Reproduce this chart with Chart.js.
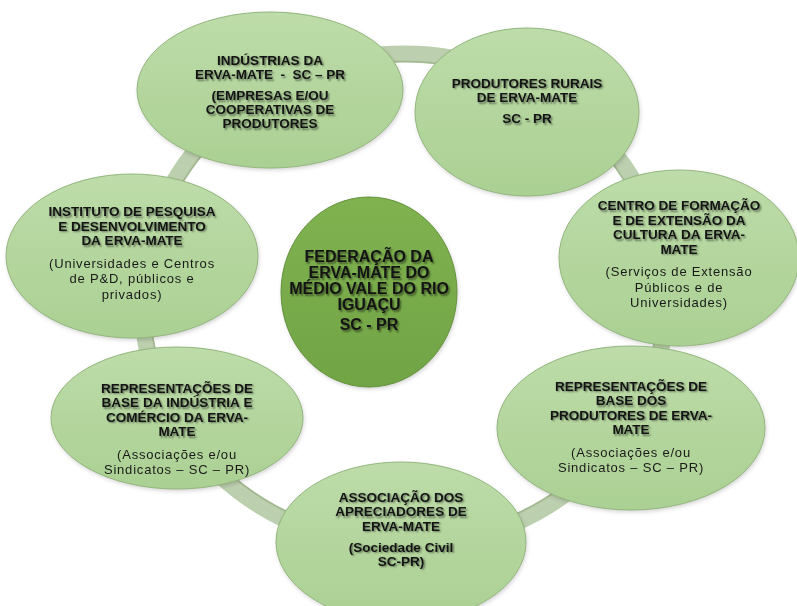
<!DOCTYPE html>
<html>
<head>
<meta charset="utf-8">
<script src="https://cdn.jsdelivr.net/npm/chart.js@4/dist/chart.umd.min.js"></script>
<style>
  html, body { margin: 0; padding: 0; background: #fff; }
  canvas { display: block; }
</style>
</head>
<body>
<canvas id="diagram" width="797" height="606"></canvas>
<script>
    // nodes of the cycle, clockwise from top-left
    const nodeTitles = [
        ['INDÚSTRIAS DA', 'ERVA-MATE  -  SC – PR'],
        ['PRODUTORES RURAIS', 'DE ERVA-MATE'],
        ['CENTRO DE FORMAÇÃO', 'E DE EXTENSÃO DA', 'CULTURA DA ERVA-', 'MATE'],
        ['REPRESENTAÇÕES DE', 'BASE DOS', 'PRODUTORES DE ERVA-', 'MATE'],
        ['ASSOCIAÇÃO DOS', 'APRECIADORES DE', 'ERVA-MATE'],
        ['REPRESENTAÇÕES DE', 'BASE DA INDÚSTRIA E', 'COMÉRCIO DA ERVA-', 'MATE'],
        ['INSTITUTO DE PESQUISA', 'E DESENVOLVIMENTO', 'DA ERVA-MATE']
    ];
    const nodeDetails = [
        ['(EMPRESAS E/OU', 'COOPERATIVAS DE', 'PRODUTORES'],
        ['SC - PR'],
        ['(Serviços de Extensão', 'Públicos e de', 'Universidades)'],
        ['(Associações e/ou', 'Sindicatos – SC – PR)'],
        ['(Sociedade Civil', 'SC-PR)'],
        ['(Associações e/ou', 'Sindicatos – SC – PR)'],
        ['(Universidades e Centros', 'de P&D, públicos e', 'privados)']
    ];
    const detailIsBold = [true, true, false, false, true, false, false];
    const nodeX = [270, 527, 679, 631, 401, 177, 132];
    const nodeY = [90, 112, 258, 428, 542, 418, 256];

    const hubTitle = ['FEDERAÇÃO DA', 'ERVA-MATE DO', 'MÉDIO VALE DO RIO', 'IGUAÇU'];
    const hubDetail = ['SC - PR'];
    const hubX = [369];
    const hubY = [292];

    const ringX = [404];
    const ringY = [300];

    // shape sizes (diagram units)
    const layout = {
        nodeRx: [133, 112, 120, 134, 125, 126, 126],
        nodeRy: [78, 84, 88, 82, 80, 71, 82],
        textDy: [3, -10, -3, 0, -12, 12, -2],
        hubRx: 88, hubRy: 95,
        ringRx: 262, ringRy: 246, ringWidth: 17
    };

    const nodePoints = nodeX.map((x, i) => ({ x: x, y: nodeY[i] }));

    function radius(scale, c, r) {
        return Math.abs(scale.getPixelForValue(c + r) - scale.getPixelForValue(c));
    }

    function drawEllipse(ctx, cx, cy, rx, ry, top, bottom, border, shadow) {
        ctx.save();
        const g = ctx.createLinearGradient(0, cy - ry, 0, cy + ry);
        g.addColorStop(0, top);
        g.addColorStop(1, bottom);
        if (shadow) {
            ctx.shadowColor = 'rgba(0,0,0,0.18)';
            ctx.shadowBlur = 4;
            ctx.shadowOffsetX = 1;
            ctx.shadowOffsetY = 2;
        }
        ctx.beginPath();
        ctx.ellipse(cx, cy, rx, ry, 0, 0, Math.PI * 2);
        ctx.fillStyle = g;
        ctx.fill();
        ctx.shadowColor = 'transparent';
        ctx.lineWidth = 1;
        ctx.strokeStyle = border;
        ctx.stroke();
        ctx.restore();
    }

    function drawText(ctx, cx, cy, title, detail, opts) {
        const lh = opts.lineHeight;
        const total = title.length * lh + opts.gap + detail.length * opts.detailLineHeight;
        let y = cy - total / 2 + lh / 2;
        ctx.save();
        ctx.textAlign = 'center';
        ctx.textBaseline = 'middle';
        ctx.fillStyle = '#141414';
        ctx.shadowColor = 'rgba(0,0,0,0.45)';
        ctx.shadowBlur = 2;
        ctx.shadowOffsetX = 1.5;
        ctx.shadowOffsetY = 1.5;
        ctx.font = opts.titleFont;
        title.forEach(line => { ctx.fillText(line, cx, y); y += lh; });
        y += opts.gap - lh + opts.detailLineHeight;
        if (!opts.detailBold) {
            ctx.shadowColor = 'transparent';
            ctx.letterSpacing = '0.8px';
            ctx.fillStyle = '#1a1a1a';
        }
        ctx.font = opts.detailFont;
        detail.forEach(line => { ctx.fillText(line, cx, y); y += opts.detailLineHeight; });
        ctx.restore();
    }

    const cyclePlugin = {
        id: 'cycle',
        beforeDatasetsDraw(chart) {
            const ctx = chart.ctx;
            const xs = chart.scales.x, ys = chart.scales.y;
            // ring behind the nodes
            const rcx = xs.getPixelForValue(ringX[0]);
            const rcy = ys.getPixelForValue(ringY[0]);
            const rrx = radius(xs, ringX[0], layout.ringRx);
            const rry = radius(ys, ringY[0], layout.ringRy);
            ctx.save();
            ctx.beginPath();
            ctx.ellipse(rcx, rcy, rrx, rry, 0, 0, Math.PI * 2);
            ctx.lineWidth = layout.ringWidth;
            ctx.strokeStyle = '#bccfae';
            ctx.stroke();
            ctx.beginPath();
            ctx.ellipse(rcx, rcy, rrx - layout.ringWidth / 2 + 1, rry - layout.ringWidth / 2 + 1, 0, 0, Math.PI * 2);
            ctx.lineWidth = 1.5;
            ctx.strokeStyle = '#a3b792';
            ctx.stroke();
            ctx.restore();
        },
        afterDatasetsDraw(chart) {
            const ctx = chart.ctx;
            const xs = chart.scales.x, ys = chart.scales.y;
            const nodes = chart.getDatasetMeta(0).data;
            nodes.forEach((pt, i) => {
                const rx = radius(xs, nodeX[i], layout.nodeRx[i]);
                const ry = radius(ys, nodeY[i], layout.nodeRy[i]);
                drawEllipse(ctx, pt.x, pt.y, rx, ry, '#bddca9', '#abd093', '#93b67d', true);
            });
            nodes.forEach((pt, i) => {
                drawText(ctx, pt.x, pt.y + layout.textDy[i], nodeTitles[i], nodeDetails[i], {
                    titleFont: 'bold 13.5px "Liberation Sans", Arial, sans-serif',
                    detailFont: (detailIsBold[i] ? 'bold 13.5px' : '13px') + ' "Liberation Sans", Arial, sans-serif',
                    detailBold: detailIsBold[i],
                    lineHeight: 14.5,
                    detailLineHeight: detailIsBold[i] ? 14 : 15.5,
                    gap: 7
                });
            });
            const hub = chart.getDatasetMeta(1).data[0];
            drawEllipse(ctx, hub.x, hub.y, radius(xs, hubX[0], layout.hubRx), radius(ys, hubY[0], layout.hubRy),
                '#80b250', '#71a445', '#62923a', true);
            drawText(ctx, hub.x, hub.y, hubTitle, hubDetail, {
                titleFont: 'bold 16px "Liberation Sans", Arial, sans-serif',
                detailFont: 'bold 16px "Liberation Sans", Arial, sans-serif',
                detailBold: true,
                lineHeight: 16,
                detailLineHeight: 16,
                gap: 4
            });
        }
    };

    new Chart(document.getElementById('diagram'), {
        type: 'scatter',
        data: {
            datasets: [
                { label: 'Elos da cadeia', data: nodePoints, pointRadius: 0 },
                { label: 'Federação', data: [{ x: hubX[0], y: hubY[0] }], pointRadius: 0 }
            ]
        },
        options: {
            responsive: false,
            animation: false,
            layout: { padding: 0 },
            scales: {
                x: { type: 'linear', min: 0, max: 797, display: false },
                y: { type: 'linear', min: 0, max: 606, reverse: true, display: false }
            },
            plugins: {
                legend: { display: false },
                tooltip: { enabled: false }
            }
        },
        plugins: [cyclePlugin]
    });
</script>
</body>
</html>
